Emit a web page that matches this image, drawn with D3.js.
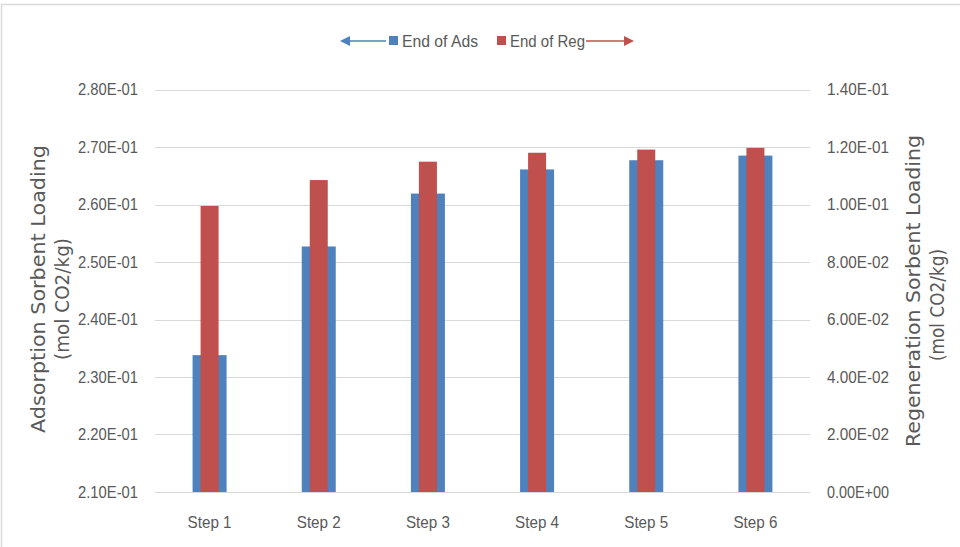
<!DOCTYPE html>
<html>
<head>
<meta charset="utf-8">
<script src="https://cdn.jsdelivr.net/npm/d3@7"></script>
<style>
  html, body { margin: 0; padding: 0; background: #fff; }
  svg { display: block; }
</style>
</head>
<body>
<svg id="chart" width="960" height="547"></svg>
<script>
// Sorbent loading at the end of each adsorption / regeneration step
const steps = ["Step 1", "Step 2", "Step 3", "Step 4", "Step 5", "Step 6"];
const endOfAds = [0.2338, 0.2527, 0.2619, 0.2661, 0.2677, 0.2685];
const endOfReg = [0.0995, 0.1085, 0.1149, 0.1180, 0.1191, 0.1197];
const leftTicks = [0.21, 0.22, 0.23, 0.24, 0.25, 0.26, 0.27, 0.28];
const rightTicks = [0, 0.02, 0.04, 0.06, 0.08, 0.10, 0.12, 0.14];
const seriesNames = ["End of Ads", "End of Reg"];
const seriesColors = ["#4f81bd", "#c0504d"];

const svg = d3.select("#chart");
const W = 960, H = 547;
const plot = { left: 155, right: 810, top: 89.5, bottom: 492 };
const tickFont = "'Liberation Sans', Arial, sans-serif";
const titleFont = "'DejaVu Sans', 'Noto Sans', sans-serif";
const textColor = "#595959";

// outer frame (top and left edges)
svg.append("line").attr("x1", 1).attr("x2", W).attr("y1", 4.5).attr("y2", 4.5)
  .attr("stroke", "#d9d9d9").attr("stroke-width", 1.5);
svg.append("line").attr("x1", 1.5).attr("x2", 1.5).attr("y1", 4).attr("y2", H)
  .attr("stroke", "#d9d9d9").attr("stroke-width", 1.5);

const x = d3.scaleBand().domain(steps).range([plot.left, plot.right]);
const yL = d3.scaleLinear().domain([0.21, 0.28]).range([plot.bottom, plot.top]);
const yR = d3.scaleLinear().domain([0, 0.14]).range([plot.bottom, plot.top]);

// horizontal gridlines
svg.append("g").selectAll("line").data(leftTicks.slice(1)).join("line")
  .attr("x1", plot.left).attr("x2", plot.right)
  .attr("y1", d => Math.round(yL(d)) + 0.5).attr("y2", d => Math.round(yL(d)) + 0.5)
  .attr("stroke", "#d9d9d9").attr("stroke-width", 1);

// exponent-style tick labels, e.g. 2.80E-01 / 0.00E+00
const sci = d => {
  if (d === 0) return "0.00E+00";
  const [m, e] = d3.format(".2e")(d).split("e");
  const ex = +e;
  return m + "E" + (ex < 0 ? "-" : "+") + String(Math.abs(ex)).padStart(2, "0");
};

// slightly condensed label style
function styleTicks(sel, len) {
  sel.attr("font-family", tickFont).attr("font-size", 16.5)
    .attr("fill", textColor)
    .attr("textLength", len).attr("lengthAdjust", "spacingAndGlyphs");
}

// left axis
const leftAxis = svg.append("g").attr("transform", `translate(${plot.left},0)`)
  .call(d3.axisLeft(yL).tickValues(leftTicks).tickFormat(sci)
    .tickSize(0).tickPadding(17));
leftAxis.select(".domain").remove();
styleTicks(leftAxis.selectAll("text"), 60);

// right axis
const rightAxis = svg.append("g").attr("transform", `translate(${plot.right},0)`)
  .call(d3.axisRight(yR).tickValues(rightTicks).tickFormat(sci)
    .tickSize(0).tickPadding(17));
rightAxis.select(".domain").remove();
styleTicks(rightAxis.selectAll("text"), 62);

// bars: adsorption (left scale) behind, regeneration (right scale) in front
const adsW = 34, regW = 18;
svg.append("g").selectAll("rect").data(steps).join("rect")
  .attr("x", d => x(d) + x.bandwidth() / 2 - adsW / 2)
  .attr("width", adsW)
  .attr("y", (d, i) => yL(endOfAds[i]))
  .attr("height", (d, i) => plot.bottom - yL(endOfAds[i]))
  .attr("fill", seriesColors[0]);
svg.append("g").selectAll("rect").data(steps).join("rect")
  .attr("x", d => x(d) + x.bandwidth() / 2 - regW / 2)
  .attr("width", regW)
  .attr("y", (d, i) => yR(endOfReg[i]))
  .attr("height", (d, i) => plot.bottom - yR(endOfReg[i]))
  .attr("fill", seriesColors[1]);

// category axis
svg.append("line").attr("x1", plot.left).attr("x2", plot.right)
  .attr("y1", plot.bottom + 0.5).attr("y2", plot.bottom + 0.5)
  .attr("stroke", "#d9d9d9").attr("stroke-width", 1.2);
const catLabels = svg.append("g").selectAll("text").data(steps).join("text")
  .attr("x", d => x(d) + x.bandwidth() / 2)
  .attr("y", 528)
  .attr("text-anchor", "middle")
  .text(d => d);
styleTicks(catLabels, 44);

// axis titles (two rotated lines each)
function axisTitle(bx, cy, lines) {
  const g = svg.append("g");
  lines.forEach((ln, i) => {
    g.append("text")
      .attr("transform", `translate(${bx + i * 24},${cy + ln.dy}) rotate(-90)`)
      .attr("text-anchor", "middle")
      .attr("font-family", titleFont).attr("font-size", 19)
      .attr("fill", textColor)
      .attr("textLength", ln.len).attr("lengthAdjust", "spacingAndGlyphs")
      .text(ln.text);
  });
}
axisTitle(45, 289, [
  { text: "Adsorption Sorbent Loading", len: 288, dy: 0 },
  { text: "(mol CO2/kg)", len: 122, dy: 10 }
]);
axisTitle(920, 291, [
  { text: "Regeneration Sorbent Loading", len: 312, dy: 0 },
  { text: "(mol CO2/kg)", len: 112, dy: 14 }
]);

// legend with direction arrows
const lg = svg.append("g");
const ly = 41;
lg.append("line").attr("x1", 348).attr("x2", 386).attr("y1", ly).attr("y2", ly)
  .attr("stroke", seriesColors[0]).attr("stroke-width", 1.5);
lg.append("path").attr("d", `M340,${ly} L350,${ly - 5} L350,${ly + 5} Z`).attr("fill", seriesColors[0]);
lg.append("rect").attr("x", 389).attr("y", ly - 5).attr("width", 9).attr("height", 9).attr("fill", seriesColors[0]);
styleTicks(lg.append("text").attr("x", 402).attr("y", ly + 6).text(seriesNames[0]), 76);
lg.append("rect").attr("x", 497).attr("y", ly - 5).attr("width", 9).attr("height", 9).attr("fill", seriesColors[1]);
styleTicks(lg.append("text").attr("x", 510).attr("y", ly + 6).text(seriesNames[1]), 75);
lg.append("line").attr("x1", 586).attr("x2", 624).attr("y1", ly).attr("y2", ly)
  .attr("stroke", seriesColors[1]).attr("stroke-width", 1.5);
lg.append("path").attr("d", `M634,${ly} L624,${ly - 5} L624,${ly + 5} Z`).attr("fill", seriesColors[1]);
</script>
</body>
</html>
